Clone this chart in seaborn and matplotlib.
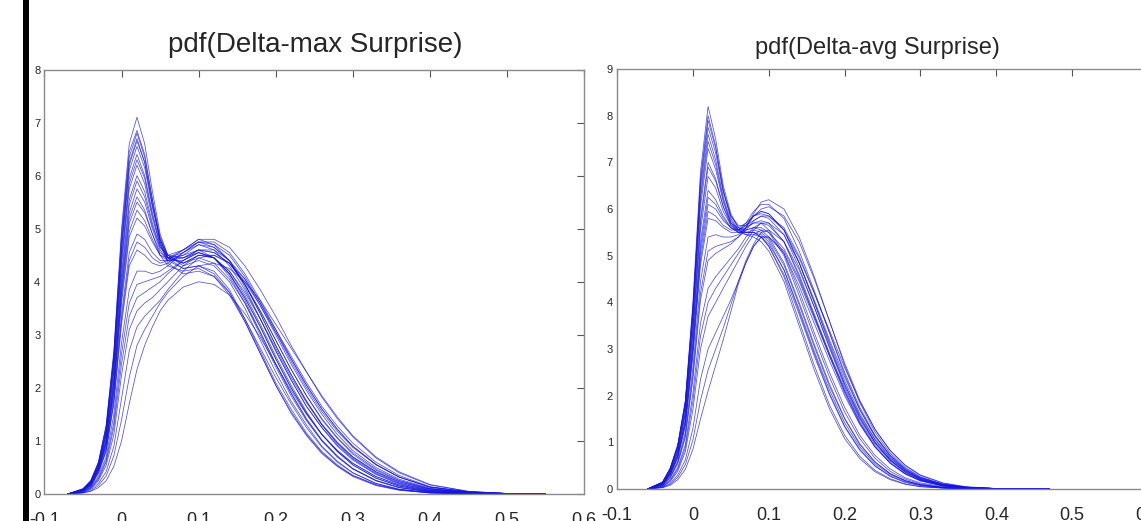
import matplotlib
matplotlib.use('Agg')
import matplotlib.pyplot as plt
from matplotlib.patches import Rectangle
import pandas as pd
import seaborn as sns

x_max = [-0.07, -0.05, -0.04, -0.03, -0.02, -0.01, 0.00, 0.01, 0.02, 0.03, 0.04,
         0.05, 0.06, 0.08, 0.10, 0.12, 0.14, 0.16, 0.18, 0.20, 0.22, 0.24, 0.26,
         0.28, 0.30, 0.33, 0.36, 0.40, 0.45, 0.50, 0.55]

max_c01 = [0, 0.10, 0.25, 0.60, 1.30, 2.70, 5.00, 6.60, 7.10, 6.60, 5.70, 4.90, 4.50, 4.30, 4.40, 4.30, 4.00, 3.50, 2.90, 2.30, 1.75, 1.30, 0.90, 0.62, 0.40, 0.20, 0.09, 0.03, 0.01, 0, 0]
max_c02 = [0, 0.09, 0.24, 0.58, 1.25, 2.60, 4.80, 6.35, 6.80, 6.35, 5.55, 4.85, 4.50, 4.35, 4.50, 4.45, 4.20, 3.75, 3.20, 2.60, 2.05, 1.55, 1.12, 0.80, 0.55, 0.30, 0.15, 0.05, 0.01, 0, 0]
max_c03 = [0, 0.09, 0.23, 0.56, 1.20, 2.55, 4.70, 6.25, 6.70, 6.25, 5.45, 4.80, 4.45, 4.25, 4.30, 4.20, 3.85, 3.30, 2.70, 2.10, 1.60, 1.15, 0.80, 0.55, 0.35, 0.18, 0.08, 0.02, 0, 0, 0]
max_c04 = [0, 0.09, 0.22, 0.55, 1.18, 2.50, 4.60, 6.10, 6.55, 6.15, 5.40, 4.80, 4.50, 4.45, 4.60, 4.55, 4.35, 3.95, 3.45, 2.90, 2.35, 1.85, 1.40, 1.05, 0.75, 0.45, 0.25, 0.10, 0.03, 0.01, 0]
max_c05 = [0, 0.08, 0.22, 0.53, 1.15, 2.40, 4.45, 5.95, 6.40, 6.00, 5.30, 4.75, 4.45, 4.35, 4.45, 4.35, 4.05, 3.60, 3.05, 2.45, 1.90, 1.42, 1.02, 0.72, 0.48, 0.25, 0.12, 0.04, 0.01, 0, 0]
max_c06 = [0, 0.08, 0.21, 0.52, 1.10, 2.30, 4.30, 5.75, 6.20, 5.85, 5.20, 4.70, 4.45, 4.45, 4.60, 4.60, 4.40, 4.05, 3.55, 3.00, 2.45, 1.95, 1.50, 1.12, 0.82, 0.50, 0.28, 0.11, 0.03, 0.01, 0]
max_c07 = [0, 0.08, 0.20, 0.50, 1.05, 2.20, 4.15, 5.55, 6.00, 5.70, 5.10, 4.65, 4.45, 4.50, 4.70, 4.65, 4.40, 3.95, 3.40, 2.80, 2.25, 1.75, 1.30, 0.95, 0.68, 0.40, 0.21, 0.08, 0.02, 0, 0]
max_c08 = [0, 0.07, 0.19, 0.48, 1.00, 2.10, 3.95, 5.30, 5.75, 5.50, 5.00, 4.60, 4.40, 4.40, 4.55, 4.45, 4.15, 3.65, 3.05, 2.45, 1.90, 1.40, 1.00, 0.70, 0.47, 0.25, 0.12, 0.04, 0.01, 0, 0]
max_c09 = [0, 0.07, 0.18, 0.46, 0.95, 2.00, 3.80, 5.10, 5.50, 5.30, 4.90, 4.55, 4.45, 4.55, 4.75, 4.75, 4.55, 4.15, 3.65, 3.10, 2.55, 2.05, 1.60, 1.22, 0.90, 0.56, 0.32, 0.13, 0.04, 0.01, 0]
max_c10 = [0, 0.07, 0.17, 0.44, 0.90, 1.90, 3.60, 4.85, 5.20, 5.05, 4.75, 4.50, 4.45, 4.60, 4.80, 4.70, 4.40, 3.90, 3.30, 2.70, 2.15, 1.65, 1.25, 0.90, 0.64, 0.37, 0.19, 0.07, 0.02, 0, 0]
max_c11 = [0, 0.06, 0.16, 0.42, 0.85, 1.80, 3.40, 4.55, 4.90, 4.80, 4.55, 4.40, 4.40, 4.50, 4.60, 4.45, 4.10, 3.60, 3.00, 2.40, 1.85, 1.38, 1.00, 0.70, 0.48, 0.26, 0.13, 0.04, 0.01, 0, 0]
max_c12 = [0, 0.06, 0.15, 0.40, 0.80, 1.70, 3.20, 4.30, 4.60, 4.50, 4.35, 4.30, 4.35, 4.55, 4.75, 4.70, 4.50, 4.10, 3.60, 3.05, 2.50, 2.00, 1.55, 1.18, 0.88, 0.55, 0.32, 0.13, 0.04, 0.01, 0]
max_c13 = [0, 0.05, 0.13, 0.34, 0.70, 1.50, 2.85, 3.85, 4.20, 4.20, 4.15, 4.20, 4.30, 4.55, 4.70, 4.60, 4.30, 3.85, 3.30, 2.70, 2.15, 1.65, 1.25, 0.92, 0.66, 0.38, 0.20, 0.07, 0.02, 0, 0]
max_c14 = [0, 0.04, 0.11, 0.28, 0.60, 1.25, 2.45, 3.35, 3.70, 3.80, 3.90, 4.00, 4.15, 4.40, 4.60, 4.55, 4.35, 3.95, 3.45, 2.90, 2.35, 1.85, 1.42, 1.06, 0.78, 0.47, 0.26, 0.10, 0.03, 0.01, 0]
max_c15 = [0, 0.03, 0.08, 0.20, 0.42, 0.90, 1.80, 2.70, 3.15, 3.35, 3.50, 3.65, 3.85, 4.20, 4.45, 4.50, 4.35, 4.05, 3.60, 3.10, 2.60, 2.10, 1.65, 1.28, 0.96, 0.60, 0.35, 0.14, 0.04, 0.01, 0]
max_c16 = [0, 0.02, 0.05, 0.12, 0.25, 0.52, 1.00, 1.70, 2.35, 2.80, 3.15, 3.45, 3.65, 3.90, 4.00, 3.95, 3.75, 3.40, 2.95, 2.45, 1.95, 1.50, 1.12, 0.82, 0.58, 0.33, 0.17, 0.06, 0.02, 0, 0]
max_c17 = [0, 0.02, 0.06, 0.16, 0.34, 0.72, 1.40, 2.20, 2.80, 3.10, 3.35, 3.60, 3.80, 4.10, 4.30, 4.35, 4.25, 4.00, 3.65, 3.20, 2.75, 2.30, 1.85, 1.45, 1.10, 0.70, 0.42, 0.18, 0.05, 0.01, 0]
max_c18 = [0, 0.10, 0.25, 0.60, 1.28, 2.65, 4.90, 6.45, 6.85, 6.40, 5.55, 4.75, 4.35, 4.15, 4.20, 4.10, 3.80, 3.30, 2.75, 2.20, 1.70, 1.25, 0.88, 0.60, 0.40, 0.20, 0.09, 0.03, 0.01, 0, 0]
max_c19 = [0, 0.08, 0.21, 0.52, 1.12, 2.35, 4.40, 5.85, 6.30, 5.95, 5.25, 4.70, 4.40, 4.25, 4.30, 4.15, 3.80, 3.25, 2.65, 2.05, 1.52, 1.10, 0.76, 0.52, 0.33, 0.16, 0.07, 0.02, 0, 0, 0]
max_c20 = [0, 0.07, 0.19, 0.49, 1.02, 2.15, 4.05, 5.45, 5.90, 5.60, 5.05, 4.65, 4.50, 4.60, 4.80, 4.80, 4.65, 4.30, 3.85, 3.35, 2.80, 2.30, 1.82, 1.42, 1.08, 0.68, 0.40, 0.17, 0.05, 0.01, 0]
max_c21 = [0, 0.07, 0.18, 0.45, 0.92, 1.95, 3.70, 4.95, 5.35, 5.15, 4.80, 4.50, 4.40, 4.45, 4.55, 4.45, 4.15, 3.70, 3.15, 2.55, 2.00, 1.52, 1.12, 0.80, 0.55, 0.30, 0.15, 0.05, 0.01, 0, 0]
max_c22 = [0, 0.06, 0.15, 0.40, 0.82, 1.75, 3.30, 4.40, 4.75, 4.65, 4.45, 4.35, 4.40, 4.60, 4.75, 4.65, 4.40, 3.95, 3.40, 2.80, 2.25, 1.75, 1.32, 0.98, 0.70, 0.42, 0.23, 0.09, 0.03, 0, 0]
max_c23 = [0, 0.04, 0.12, 0.30, 0.64, 1.35, 2.65, 3.60, 3.95, 4.00, 4.05, 4.10, 4.20, 4.40, 4.55, 4.45, 4.15, 3.70, 3.15, 2.55, 2.00, 1.52, 1.12, 0.82, 0.58, 0.33, 0.17, 0.06, 0.02, 0, 0]
max_c24 = [0, 0.03, 0.10, 0.25, 0.54, 1.12, 2.25, 3.10, 3.45, 3.60, 3.70, 3.85, 4.00, 4.30, 4.50, 4.45, 4.20, 3.80, 3.30, 2.75, 2.20, 1.72, 1.30, 0.96, 0.70, 0.42, 0.23, 0.09, 0.03, 0, 0]
max_c25 = [0, 0.09, 0.23, 0.56, 1.20, 2.55, 4.65, 6.20, 6.65, 6.25, 5.45, 4.80, 4.45, 4.35, 4.50, 4.50, 4.35, 4.00, 3.55, 3.05, 2.55, 2.05, 1.60, 1.22, 0.90, 0.56, 0.32, 0.13, 0.04, 0.01, 0]
max_c26 = [0, 0.07, 0.18, 0.47, 0.97, 2.05, 3.85, 5.20, 5.60, 5.35, 4.90, 4.50, 4.30, 4.20, 4.25, 4.10, 3.75, 3.25, 2.65, 2.05, 1.55, 1.12, 0.78, 0.53, 0.35, 0.17, 0.08, 0.02, 0, 0, 0]

# x positions for the Delta-avg panel
x_avg = [-0.06, -0.04, -0.03, -0.02, -0.01, 0.00, 0.01, 0.02, 0.03, 0.04, 0.05,
         0.06, 0.07, 0.08, 0.09, 0.10, 0.12, 0.14, 0.16, 0.18, 0.20, 0.22, 0.24,
         0.26, 0.28, 0.30, 0.33, 0.36, 0.40, 0.47]

avg_c01 = [0, 0.15, 0.45, 0.95, 1.90, 4.00, 6.80, 8.20, 7.50, 6.50, 5.90, 5.60, 5.50, 5.50, 5.45, 5.30, 4.70, 3.80, 2.90, 2.05, 1.35, 0.85, 0.50, 0.28, 0.15, 0.08, 0.03, 0.01, 0, 0]
avg_c02 = [0, 0.14, 0.43, 0.92, 1.85, 3.85, 6.55, 7.90, 7.30, 6.40, 5.85, 5.60, 5.55, 5.60, 5.60, 5.50, 5.00, 4.15, 3.25, 2.40, 1.65, 1.08, 0.66, 0.38, 0.21, 0.11, 0.04, 0.01, 0, 0]
avg_c03 = [0, 0.14, 0.42, 0.90, 1.80, 3.75, 6.30, 7.60, 7.05, 6.25, 5.75, 5.55, 5.50, 5.50, 5.40, 5.20, 4.55, 3.60, 2.65, 1.80, 1.15, 0.70, 0.40, 0.22, 0.11, 0.05, 0.02, 0, 0, 0]
avg_c04 = [0, 0.13, 0.40, 0.86, 1.72, 3.60, 6.05, 7.30, 6.85, 6.15, 5.70, 5.55, 5.60, 5.70, 5.75, 5.70, 5.30, 4.55, 3.70, 2.85, 2.05, 1.40, 0.90, 0.55, 0.32, 0.18, 0.07, 0.02, 0.01, 0]
avg_c05 = [0, 0.12, 0.38, 0.82, 1.65, 3.45, 5.80, 7.00, 6.65, 6.05, 5.65, 5.50, 5.50, 5.55, 5.50, 5.35, 4.80, 3.95, 3.05, 2.20, 1.50, 0.95, 0.58, 0.33, 0.18, 0.09, 0.03, 0.01, 0, 0]
avg_c06 = [0, 0.12, 0.36, 0.78, 1.58, 3.30, 5.55, 6.70, 6.45, 5.95, 5.65, 5.55, 5.65, 5.85, 5.95, 5.90, 5.55, 4.85, 4.00, 3.10, 2.25, 1.55, 1.00, 0.62, 0.36, 0.20, 0.08, 0.03, 0.01, 0]
avg_c07 = [0, 0.11, 0.34, 0.74, 1.50, 3.15, 5.30, 6.40, 6.20, 5.85, 5.60, 5.50, 5.55, 5.60, 5.55, 5.40, 4.85, 4.00, 3.10, 2.25, 1.52, 0.97, 0.58, 0.33, 0.18, 0.09, 0.03, 0.01, 0, 0]
avg_c08 = [0, 0.10, 0.32, 0.70, 1.42, 3.00, 5.05, 6.10, 6.00, 5.75, 5.60, 5.55, 5.70, 5.95, 6.10, 6.10, 5.80, 5.10, 4.25, 3.35, 2.45, 1.70, 1.12, 0.70, 0.41, 0.23, 0.09, 0.03, 0.01, 0]
avg_c09 = [0, 0.10, 0.30, 0.66, 1.35, 2.85, 4.80, 5.80, 5.75, 5.60, 5.50, 5.50, 5.60, 5.70, 5.70, 5.55, 5.05, 4.25, 3.35, 2.50, 1.75, 1.15, 0.72, 0.43, 0.24, 0.13, 0.05, 0.02, 0, 0]
avg_c10 = [0, 0.09, 0.27, 0.60, 1.22, 2.60, 4.45, 5.40, 5.45, 5.40, 5.40, 5.45, 5.60, 5.85, 6.00, 6.05, 5.85, 5.30, 4.50, 3.60, 2.70, 1.90, 1.28, 0.82, 0.50, 0.29, 0.12, 0.04, 0.01, 0]
avg_c11 = [0, 0.08, 0.24, 0.54, 1.10, 2.35, 4.05, 4.90, 5.05, 5.15, 5.25, 5.40, 5.60, 5.90, 6.15, 6.20, 6.00, 5.40, 4.55, 3.60, 2.65, 1.85, 1.22, 0.77, 0.46, 0.26, 0.10, 0.04, 0.01, 0]
avg_c12 = [0, 0.06, 0.20, 0.46, 0.95, 2.05, 3.55, 4.30, 4.55, 4.75, 4.95, 5.15, 5.40, 5.60, 5.70, 5.65, 5.30, 4.60, 3.75, 2.90, 2.10, 1.42, 0.92, 0.56, 0.32, 0.17, 0.06, 0.02, 0, 0]
avg_c13 = [0, 0.05, 0.16, 0.38, 0.80, 1.70, 3.00, 3.70, 4.00, 4.30, 4.60, 4.90, 5.20, 5.45, 5.55, 5.50, 5.15, 4.50, 3.70, 2.90, 2.15, 1.50, 1.00, 0.63, 0.38, 0.21, 0.08, 0.03, 0.01, 0]
avg_c14 = [0, 0.04, 0.12, 0.30, 0.62, 1.30, 2.35, 3.00, 3.35, 3.70, 4.05, 4.45, 4.85, 5.20, 5.40, 5.40, 5.10, 4.45, 3.65, 2.85, 2.10, 1.45, 0.96, 0.60, 0.35, 0.19, 0.07, 0.02, 0, 0]
avg_c15 = [0, 0.03, 0.08, 0.20, 0.42, 0.85, 1.50, 2.10, 2.65, 3.20, 3.80, 4.40, 4.85, 5.20, 5.40, 5.40, 5.05, 4.35, 3.55, 2.75, 2.00, 1.38, 0.90, 0.56, 0.33, 0.18, 0.07, 0.02, 0, 0]
avg_c16 = [0, 0.14, 0.43, 0.92, 1.83, 3.80, 6.45, 7.75, 7.20, 6.35, 5.85, 5.65, 5.65, 5.75, 5.85, 5.85, 5.60, 5.00, 4.20, 3.35, 2.50, 1.75, 1.15, 0.72, 0.42, 0.24, 0.10, 0.04, 0.01, 0]
avg_c17 = [0, 0.13, 0.41, 0.88, 1.76, 3.68, 6.20, 7.45, 6.95, 6.20, 5.70, 5.50, 5.45, 5.45, 5.40, 5.25, 4.70, 3.85, 2.95, 2.12, 1.42, 0.90, 0.54, 0.31, 0.17, 0.09, 0.03, 0.01, 0, 0]
avg_c18 = [0, 0.12, 0.37, 0.80, 1.62, 3.40, 5.70, 6.90, 6.60, 6.05, 5.70, 5.60, 5.70, 5.85, 5.90, 5.85, 5.55, 4.95, 4.20, 3.40, 2.60, 1.88, 1.28, 0.83, 0.51, 0.30, 0.13, 0.05, 0.01, 0]
avg_c19 = [0, 0.11, 0.33, 0.72, 1.46, 3.08, 5.18, 6.25, 6.10, 5.80, 5.60, 5.50, 5.50, 5.50, 5.40, 5.20, 4.60, 3.75, 2.85, 2.02, 1.33, 0.83, 0.49, 0.27, 0.14, 0.07, 0.02, 0, 0, 0]
avg_c20 = [0, 0.10, 0.31, 0.68, 1.38, 2.92, 4.92, 5.95, 5.85, 5.65, 5.55, 5.55, 5.65, 5.85, 5.95, 5.90, 5.55, 4.85, 4.00, 3.15, 2.32, 1.62, 1.07, 0.67, 0.40, 0.22, 0.09, 0.03, 0.01, 0]
avg_c21 = [0, 0.08, 0.25, 0.57, 1.15, 2.45, 4.20, 5.10, 5.20, 5.25, 5.30, 5.40, 5.55, 5.75, 5.85, 5.80, 5.45, 4.75, 3.90, 3.02, 2.20, 1.52, 1.00, 0.62, 0.37, 0.20, 0.08, 0.03, 0, 0]
avg_c22 = [0, 0.05, 0.18, 0.42, 0.88, 1.88, 3.28, 4.00, 4.30, 4.55, 4.80, 5.05, 5.30, 5.55, 5.70, 5.70, 5.45, 4.85, 4.05, 3.20, 2.40, 1.70, 1.14, 0.73, 0.44, 0.25, 0.10, 0.04, 0.01, 0]
avg_c23 = [0, 0.03, 0.10, 0.25, 0.52, 1.05, 1.90, 2.55, 3.00, 3.45, 3.95, 4.45, 4.90, 5.25, 5.50, 5.55, 5.30, 4.70, 3.90, 3.05, 2.25, 1.58, 1.05, 0.66, 0.40, 0.22, 0.08, 0.03, 0.01, 0]
avg_c24 = [0, 0.15, 0.44, 0.94, 1.88, 3.92, 6.65, 8.00, 7.35, 6.40, 5.80, 5.55, 5.45, 5.40, 5.30, 5.10, 4.45, 3.50, 2.55, 1.72, 1.08, 0.65, 0.37, 0.20, 0.10, 0.05, 0.02, 0, 0, 0]

x_ticks = [-0.1, 0, 0.1, 0.2, 0.3, 0.4, 0.5, 0.6]
x_tick_labels = ['-0.1', '0', '0.1', '0.2', '0.3', '0.4', '0.5', '0.6']

max_curves = [max_c01, max_c02, max_c03, max_c04, max_c05, max_c06, max_c07, max_c08, max_c09,
              max_c10, max_c11, max_c12, max_c13, max_c14, max_c15, max_c16, max_c17, max_c18,
              max_c19, max_c20, max_c21, max_c22, max_c23, max_c24, max_c25, max_c26]
avg_curves = [avg_c01, avg_c02, avg_c03, avg_c04, avg_c05, avg_c06, avg_c07, avg_c08,
              avg_c09, avg_c10, avg_c11, avg_c12, avg_c13, avg_c14, avg_c15, avg_c16,
              avg_c17, avg_c18, avg_c19, avg_c20, avg_c21, avg_c22, avg_c23, avg_c24]


def to_long(xs, curves):
    rows = []
    for i, ys in enumerate(curves):
        for x, y in zip(xs, ys):
            rows.append((i, x, y))
    return pd.DataFrame(rows, columns=['curve', 'x', 'pdf'])


def draw_panel(ax, df, ymax):
    sns.lineplot(data=df, x='x', y='pdf', units='curve', estimator=None,
                 color='#1414e0', lw=0.55, alpha=0.75, ax=ax, legend=False)
    ax.set_xlim(-0.1, 0.6)
    ax.set_ylim(0, ymax)
    ax.set_xticks(x_ticks)
    ax.set_xticklabels(x_tick_labels, fontfamily=['Liberation Sans Narrow', 'Liberation Sans'])
    ax.set_yticks(range(ymax + 1))
    ax.set_xlabel('')
    ax.set_ylabel('')
    ax.tick_params(direction='in', top=True, right=True, length=5, width=0.8, color='#555555')
    ax.tick_params(axis='y', labelsize=8, pad=3)
    ax.tick_params(axis='x', labelsize=13, pad=13)
    for s in ax.spines.values():
        s.set_color('#8a8a8a')
        s.set_linewidth(1.0)


sns.set_style('white')
plt.rcParams['font.family'] = ['Liberation Sans', 'DejaVu Sans']

fig = plt.figure(figsize=(11.41, 5.21), dpi=100)
ax1 = fig.add_axes([0.039, 0.0518, 0.4728, 0.8148])
ax2 = fig.add_axes([0.5408, 0.0614, 0.4654, 0.8061])

draw_panel(ax1, to_long(x_max, max_curves), 8)
draw_panel(ax2, to_long(x_avg, avg_curves), 9)

fig.text(0.276, 0.913, 'pdf(Delta-max Surprise)', ha='center', va='center', fontsize=20)
fig.text(0.7686, 0.907, 'pdf(Delta-avg Surprise)', ha='center', va='center', fontsize=17)

# black bar on the left edge of the slide
fig.add_artist(Rectangle((0.0202, 0), 0.0053, 1, transform=fig.transFigure,
                         color='black', lw=0))

fig.savefig('out.png', dpi=100)
